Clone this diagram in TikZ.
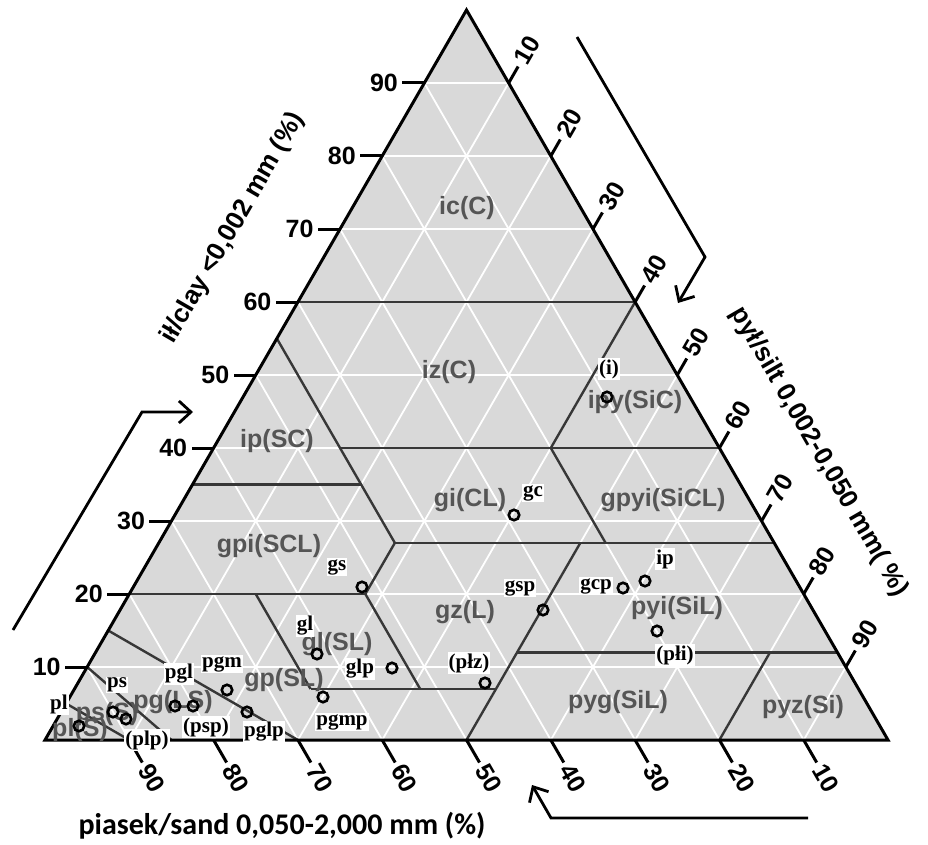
\documentclass[tikz,border=0pt]{standalone}
\usepackage{fontspec}
\setmainfont{Liberation Sans}
\newfontfamily\ptfont{Liberation Serif}
\newfontfamily\calfont{Carlito}
\usetikzlibrary{arrows.meta}
\definecolor{trifill}{RGB}{217,217,217}
\definecolor{bndcol}{RGB}{55,55,55}
\definecolor{regcol}{RGB}{85,85,85}
\pgfkeys{/tern/.cd,s/.store in=\ternS,c/.store in=\ternC,s=0,c=0}
\tikzdeclarecoordinatesystem{tern}{%
  \pgfkeys{/tern/.cd,#1}%
  \pgfmathsetmacro\ternX{45+8.43*(\ternS)+4.215*(\ternC)}%
  \pgfmathsetmacro\ternY{740-7.3*(\ternC)}%
  \pgfpointxy{\ternX}{\ternY}%
}
\tikzset{
  gridline/.style={white,line width=1.8pt},
  bnd/.style={bndcol,line width=2.4pt},
  outline/.style={black,line width=3pt,line join=miter},
  tickline/.style={black,line width=3pt},
  axnum/.style={font=\bfseries\fontsize{25}{25}\selectfont,inner sep=3pt},
  axtitle/.style={font=\bfseries\fontsize{26}{26}\selectfont,inner sep=0pt},
  btitle/.style={font=\calfont\bfseries\fontsize{30}{30}\selectfont,inner sep=0pt},
  reglbl/.style={font=\bfseries\fontsize{25}{25}\selectfont,text=regcol,inner sep=0pt},
  ptc/.style={circle,draw=black,line width=2.6pt,minimum size=10.5pt,inner sep=0pt},
  ptl/.style={font=\ptfont\bfseries\fontsize{21}{21}\selectfont,fill=white,inner sep=1pt},
  arrowline/.style={black,line width=2.8pt,-{Straight Barb[length=12pt,width=22pt]}},
}
\begin{document}
\begin{tikzpicture}[x=1pt,y=-1pt]
\useasboundingbox (0,0) rectangle (928,845);
% triangle corners
\coordinate (BL) at (tern cs:s=0,c=0);
\coordinate (BR) at (tern cs:s=100,c=0);
\coordinate (TP) at (tern cs:s=0,c=100);
\fill[trifill] (BL) -- (BR) -- (TP) -- cycle;
% white grid
\foreach \k in {10,20,...,90}{
  \draw[gridline] (tern cs:s=0,c=\k) -- (tern cs:s=100-\k,c=\k);
  \draw[gridline] (tern cs:s=\k,c=0) -- (tern cs:s=\k,c=100-\k);
  \draw[gridline] (tern cs:s=100-\k,c=0) -- (tern cs:s=0,c=100-\k);
}
% class boundaries
\draw[bnd] (tern cs:s=0,c=60) -- (tern cs:s=40,c=60);
\draw[bnd] (tern cs:s=40,c=60) -- (tern cs:s=40,c=40);
\draw[bnd] (tern cs:s=0,c=55) -- (tern cs:s=28,c=27);
\draw[bnd] (tern cs:s=15,c=40) -- (tern cs:s=60,c=40);
\draw[bnd] (tern cs:s=0,c=35) -- (tern cs:s=20,c=35);
\draw[bnd] (tern cs:s=28,c=27) -- (tern cs:s=73,c=27);
\draw[bnd] (tern cs:s=40,c=40) -- (tern cs:s=53,c=27);
\draw[bnd] (tern cs:s=0,c=20) -- (tern cs:s=28,c=20);
\draw[bnd] (tern cs:s=28,c=27) -- (tern cs:s=28,c=20);
\draw[bnd] (tern cs:s=28,c=20) -- (tern cs:s=41,c=7);
\draw[bnd] (tern cs:s=15,c=20) -- (tern cs:s=28,c=7);
\draw[bnd] (tern cs:s=28,c=7) -- (tern cs:s=50,c=7);
\draw[bnd] (tern cs:s=50,c=0) -- (tern cs:s=50,c=27);
\draw[bnd] (tern cs:s=50,c=12) -- (tern cs:s=88,c=12);
\draw[bnd] (tern cs:s=80,c=0) -- (tern cs:s=80,c=12);
\draw[bnd] (tern cs:s=0,c=15) -- (tern cs:s=30,c=0);
\draw[bnd] (tern cs:s=0,c=10) -- (tern cs:s=15,c=0);
\draw[bnd] (tern cs:s=0,c=5) -- (tern cs:s=10,c=0);
% outline
\draw[outline] (BL) -- (BR) -- (TP) -- cycle;
% ticks and numbers
\foreach \k in {10,20,...,90}{
  \draw[tickline] (tern cs:s=0,c=\k) -- ++(-22,0) node[axnum,anchor=east,text=black] (lc\k) {\k};
  \draw[tickline] (tern cs:s=\k,c=100-\k) -- ++(9.5,-16.5) node[axnum,anchor=west,rotate=60] (ls\k) {\k};
  \draw[tickline] (tern cs:s=100-\k,c=0) -- ++(13,22.5) node[axnum,anchor=west,rotate=-60] (ld\k) {\k};
}
% axis titles
\node[axtitle,rotate=60] (tclay) at (233,228) {ił/clay <0,002 mm (\%)};
\node[axtitle,rotate=-60] (tsilt) at (819,452) {pył/silt 0,002-0,050 mm( \%)};
\node[btitle] (tsand) at (282,826) {piasek/sand 0,050-2,000 mm (\%)};
% arrows
\coordinate (la1) at (13,630); \coordinate (la2) at (142,412); \coordinate (la3) at (193,412);
\coordinate (ra1) at (577,37); \coordinate (ra2) at (705,257); \coordinate (ra3) at (678,303);
\coordinate (ba1) at (808,818); \coordinate (ba2) at (551,818); \coordinate (ba3) at (532,785);
\draw[arrowline] (la1) -- (la2) -- (la3);
\draw[arrowline] (ra1) -- (ra2) -- (ra3);
\draw[arrowline] (ba1) -- (ba2) -- (ba3);
% region labels
\node[reglbl] (r-ic) at (467,208) {ic(C)};
\node[reglbl] (r-iz) at (449,372) {iz(C)};
\node[reglbl] (r-ip) at (277,441) {ip(SC)};
\node[reglbl] (r-ipy) at (635,402) {ipy(SiC)};
\node[reglbl] (r-gi) at (470,500) {gi(CL)};
\node[reglbl] (r-gpyi) at (663,500) {gpyi(SiCL)};
\node[reglbl] (r-gpi) at (269,546) {gpi(SCL)};
\node[reglbl] (r-gz) at (465,612) {gz(L)};
\node[reglbl] (r-gl) at (337,644) {gl(SL)};
\node[reglbl] (r-gp) at (284,680) {gp(SL)};
\node[reglbl] (r-pg) at (173,702) {pg(LS)};
\node[reglbl] (r-ps) at (107,714) {ps(S)};
\node[reglbl] (r-pl) at (80,730) {pl(S)};
\node[reglbl] (r-pyi) at (677,608) {pyi(SiL)};
\node[reglbl] (r-pyg) at (618,702) {pyg(SiL)};
\node[reglbl] (r-pyz) at (803,707) {pyz(Si)};
% points
\node[ptc] (p-i) at (607,397) {};
\node[ptc] (p-gc) at (514,515) {};
\node[ptc] (p-gs) at (362,587) {};
\node[ptc] (p-gsp) at (543,610) {};
\node[ptc] (p-gcp) at (623,588) {};
\node[ptc] (p-ip) at (645,581) {};
\node[ptc] (p-pli) at (657,631) {};
\node[ptc] (p-plz) at (485,683) {};
\node[ptc] (p-gl) at (317,654) {};
\node[ptc] (p-glp) at (392,668) {};
\node[ptc] (p-pgmp) at (323,697) {};
\node[ptc] (p-pglp) at (247,712) {};
\node[ptc] (p-pgm) at (227,690) {};
\node[ptc] (p-pgl) at (175,706) {};
\node[ptc] (p-psp) at (193,706) {};
\node[ptc] (p-ps) at (113,712) {};
\node[ptc] (p-plp) at (126,719) {};
\node[ptc] (p-pl) at (79,726) {};
% point labels
\node[ptl] (l-i) at (609,369) {(i)};
\node[ptl] (l-gc) at (533,493) {gc};
\node[ptl] (l-gs) at (337,567) {gs};
\node[ptl] (l-gsp) at (520,588) {gsp};
\node[ptl] (l-gcp) at (596,586) {gcp};
\node[ptl] (l-ip) at (665,559) {ip};
\node[ptl] (l-pli) at (675,655) {(płi)};
\node[ptl] (l-plz) at (469,663) {(płz)};
\node[ptl] (l-gl) at (305,626) {gl};
\node[ptl] (l-glp) at (360,669) {glp};
\node[ptl] (l-pgmp) at (342,722) {pgmp};
\node[ptl] (l-pglp) at (264,732) {pglp};
\node[ptl] (l-pgm) at (222,664) {pgm};
\node[ptl] (l-pgl) at (179,674) {pgl};
\node[ptl] (l-psp) at (206,727) {(psp)};
\node[ptl] (l-ps) at (117,685) {ps};
\node[ptl] (l-pl) at (59,704) {pl};
\node[ptl] (l-plp) at (147,740) {(plp)};
\end{tikzpicture}
\end{document}
